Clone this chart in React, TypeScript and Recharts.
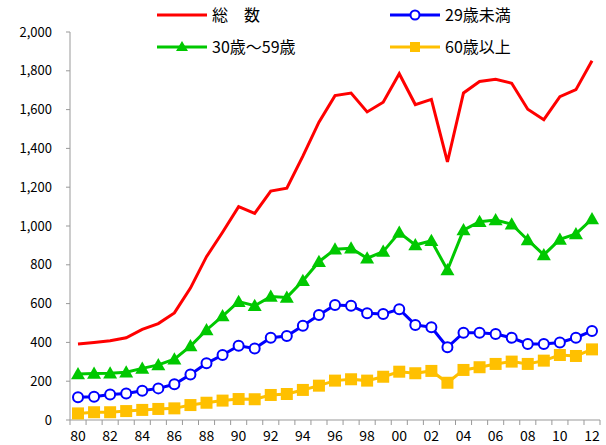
import { LineChart, Line, XAxis, YAxis } from "recharts";

const years = [
  "80", "81", "82", "83", "84", "85", "86", "87", "88", "89",
  "90", "91", "92", "93", "94", "95", "96", "97", "98", "99",
  "00", "01", "02", "03", "04", "05", "06", "07", "08", "09",
  "10", "11", "12",
];

const total = [
  392, 400, 409, 424, 467, 497, 552, 680, 842, 968,
  1100, 1065, 1180, 1195, 1360, 1535, 1672, 1685, 1588, 1638,
  1785, 1626, 1653, 1330, 1686, 1745, 1756, 1736, 1602, 1548,
  1667, 1703, 1852,
];

const under29 = [
  117, 120, 132, 137, 151, 163, 184, 235, 292, 335,
  383, 369, 424, 433, 486, 541, 593, 589, 550, 546,
  571, 490, 478, 375, 450, 450, 443, 424, 392, 392,
  400, 424, 459,
];

const age30to59 = [
  237, 240, 241, 246, 266, 284, 313, 381, 464, 536,
  610, 589, 636, 632, 718, 816, 880, 885, 834, 868,
  966, 902, 924, 773, 979, 1022, 1031, 1009, 928, 851,
  931, 959, 1036,
];

const over60 = [
  34, 40, 40, 46, 52, 57, 60, 77, 89, 100,
  108, 107, 129, 134, 155, 177, 203, 210, 203, 223,
  249, 241, 253, 192, 258, 272, 289, 301, 289, 306,
  335, 330, 364,
];

const yTicks = [0, 200, 400, 600, 800, 1000, 1200, 1400, 1600, 1800, 2000];

const data = years.map((y, i) => ({
  year: y,
  total: total[i],
  under29: under29[i],
  mid: age30to59[i],
  over60: over60[i],
}));

const FONT = "'Noto Sans CJK JP', 'Noto Sans', sans-serif";
const RED = "#ff0000";
const BLUE = "#0000ff";
const GREEN = "#00c800";
const ORANGE = "#ffc000";

const Triangle = (props: any) => {
  const { cx, cy, index } = props;
  if (cx == null || cy == null) return <g key={index} />;
  const s = 7;
  return (
    <polygon
      key={index}
      points={`${cx},${cy - s} ${cx - s},${cy + s * 0.75} ${cx + s},${cy + s * 0.75}`}
      fill={GREEN}
    />
  );
};

const Square = (props: any) => {
  const { cx, cy, index } = props;
  if (cx == null || cy == null) return <g key={index} />;
  const s = 6;
  return <rect key={index} x={cx - s} y={cy - s} width={s * 2} height={s * 2} fill={ORANGE} />;
};

// ticks sit between categories (excel style), labels every 2 years
const XTick = (props: any) => {
  const { x, y, payload, index } = props;
  const half = 8;
  const last = index === years.length - 1;
  return (
    <g>
      <line x1={x - half} y1={y} x2={x - half} y2={y + 5} stroke="#999" />
      {last && <line x1={x + half} y1={y} x2={x + half} y2={y + 5} stroke="#999" />}
      {index % 2 === 0 && (
        <text x={x} y={y + 21} textAnchor="middle" fontSize={14} fontFamily={FONT} fill="#000">
          {payload.value}
        </text>
      )}
    </g>
  );
};

const legendItems = [
  { label: "総　数", color: RED, mark: "none", x: 157, y: 15 },
  { label: "29歳未満", color: BLUE, mark: "circle", x: 390, y: 15 },
  { label: "30歳～59歳", color: GREEN, mark: "triangle", x: 157, y: 47 },
  { label: "60歳以上", color: ORANGE, mark: "square", x: 390, y: 47 },
];

const LegendOverlay = () => (
  <svg width={606} height={64} style={{ position: "absolute", left: 0, top: 0 }}>
    {legendItems.map((it) => {
      const mx = it.x + 25;
      return (
        <g key={it.label}>
          <line x1={it.x} y1={it.y} x2={it.x + 50} y2={it.y} stroke={it.color} strokeWidth={3} />
          {it.mark === "circle" && (
            <circle cx={mx} cy={it.y} r={4.5} fill="#fff" stroke={it.color} strokeWidth={2} />
          )}
          {it.mark === "triangle" && (
            <polygon points={`${mx},${it.y - 6} ${mx - 6},${it.y + 4} ${mx + 6},${it.y + 4}`} fill={it.color} />
          )}
          {it.mark === "square" && <rect x={mx - 5} y={it.y - 5} width={10} height={10} fill={it.color} />}
          <text x={it.x + 55} y={it.y + 6} fontSize={16} fontFamily={FONT} fill="#000">
            {it.label}
          </text>
        </g>
      );
    })}
  </svg>
);

export default function App() {
  return (
    <div style={{ position: "absolute", left: 0, top: 0, width: 606, height: 445, background: "#fff" }}>
      <LineChart width={606} height={445} data={data} margin={{ top: 32, right: 6, left: 0, bottom: 0 }}>
        <XAxis
          dataKey="year"
          height={25}
          padding={{ left: 8, right: 8 }}
          axisLine={{ stroke: "#999" }}
          tickLine={false}
          tickSize={0}
          tickMargin={0}
          interval={0}
          tick={<XTick />}
        />
        <YAxis
          width={70}
          domain={[0, 2000]}
          ticks={yTicks}
          interval={0}
          axisLine={{ stroke: "#999" }}
          tickLine={{ stroke: "#999" }}
          tickSize={4}
          tickMargin={14}
          tickFormatter={(v: number) => v.toLocaleString("en-US")}
          tick={{ fontSize: 13, fontFamily: FONT, fill: "#000" }}
        />
        <Line dataKey="total" stroke={RED} strokeWidth={3} dot={false} isAnimationActive={false} />
        <Line
          dataKey="under29"
          stroke={BLUE}
          strokeWidth={3}
          dot={{ r: 5, fill: "#fff", stroke: BLUE, strokeWidth: 2 }}
          isAnimationActive={false}
        />
        <Line dataKey="mid" stroke={GREEN} strokeWidth={3} dot={<Triangle />} isAnimationActive={false} />
        <Line dataKey="over60" stroke={ORANGE} strokeWidth={3} dot={<Square />} isAnimationActive={false} />
      </LineChart>
      <LegendOverlay />
    </div>
  );
}
